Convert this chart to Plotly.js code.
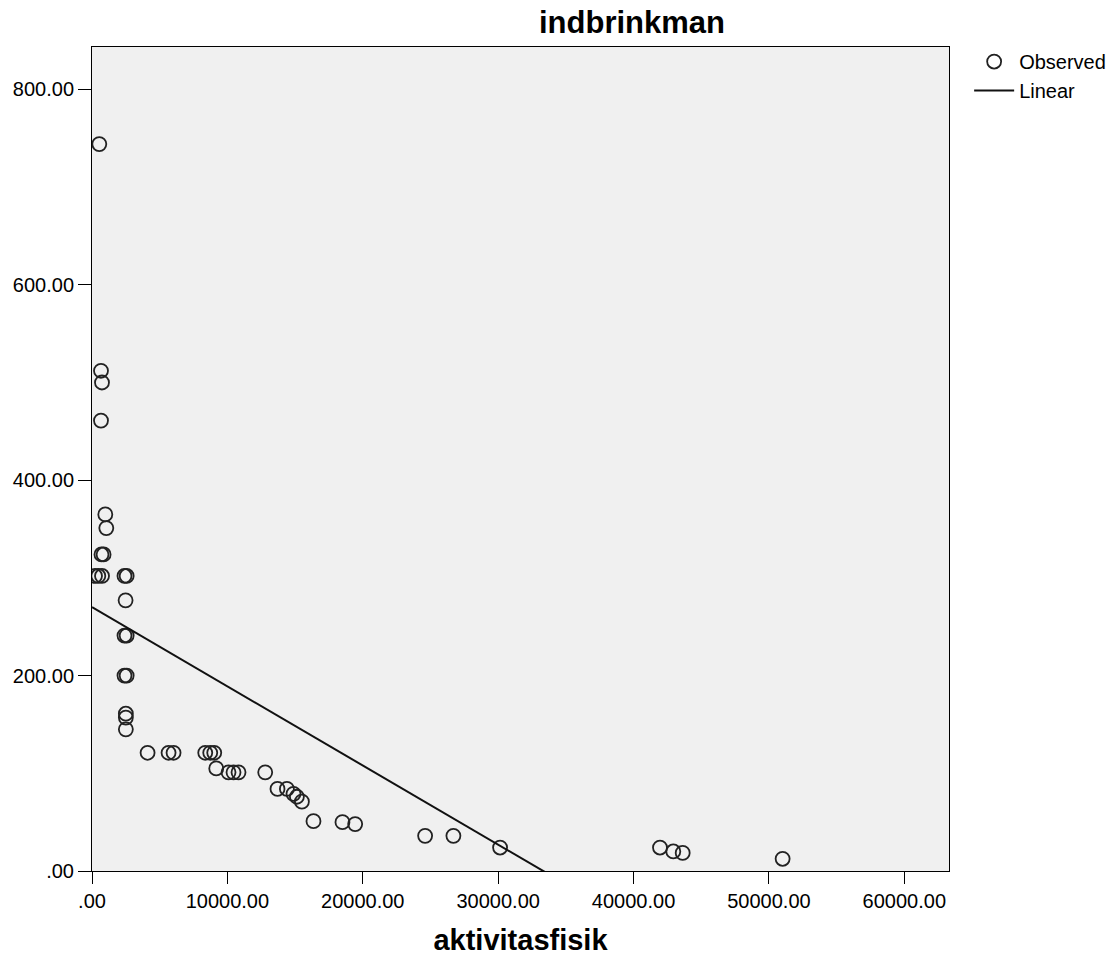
<!DOCTYPE html>
<html>
<head>
<meta charset="utf-8">
<script src="https://cdn.plot.ly/plotly-3.0.1.min.js"></script>
<style>html,body{margin:0;padding:0;background:#fff;}#chart{width:1116px;height:962px;}</style>
</head>
<body>
<div id="chart"></div>
<script>
// Observed data (aktivitasfisik vs indbrinkman)
var obsX = [539, 664, 738, 664, 982, 1056, 700, 856, 220, 465, 740, 2400, 2560, 2480, 2400, 2560, 2400, 2560, 2500, 2500, 2500,
            4105, 5655, 6024, 8364, 8733, 9029, 9177, 10084, 10453, 10822, 12794, 13702, 14396, 14883, 15134, 15503,
            16359, 18500, 19438, 24605, 26694, 30142, 41954, 42936, 43630, 51011];
var obsY = [744, 512, 500, 461, 365, 351, 324, 324, 302, 302, 302, 302, 302, 277, 241, 241, 200, 200, 161, 157, 145,
            121, 121, 121, 121, 121, 121, 105, 101, 101, 101, 101, 84, 84, 79, 76, 71,
            51, 50, 48, 36, 36, 24, 24, 20, 18.5, 12.5];
// Linear fit
var fitIntercept = 270;
var fitSlope = -0.00810;
var fitX = [0, 51011];
var fitY = fitX.map(function (x) { return fitIntercept + fitSlope * x; });

var xTickVals = [0, 10000, 20000, 30000, 40000, 50000, 60000];
var xTickText = ['.00', '10000.00', '20000.00', '30000.00', '40000.00', '50000.00', '60000.00'];
var yTickVals = [0, 200, 400, 600, 800];
var yTickText = ['.00', '200.00', '400.00', '600.00', '800.00'];

var font = 'Liberation Sans, Arial, sans-serif';

var traces = [
  {
    x: obsX, y: obsY, type: 'scatter', mode: 'markers', name: 'Observed',
    marker: { symbol: 'circle-open', size: 14, color: '#222', line: { width: 1.8, color: '#222' } },
    cliponaxis: true
  },
  {
    x: fitX, y: fitY, type: 'scatter', mode: 'lines', name: 'Linear',
    line: { color: '#111', width: 2 }
  }
];

var layout = {
  width: 1116, height: 962,
  margin: { l: 92, r: 167, t: 47, b: 91, autoexpand: false },
  paper_bgcolor: '#ffffff',
  plot_bgcolor: '#f0f0f0',
  font: { family: font, size: 20, color: '#000' },
  title: {
    text: '<b>indbrinkman</b>',
    font: { family: font, size: 31, color: '#000' },
    x: 632 / 1116, xanchor: 'center', xref: 'container',
    y: 1 - 33 / 962, yanchor: 'bottom', yref: 'container'
  },
  xaxis: {
    range: [0, 63300], tickvals: xTickVals, ticktext: xTickText,
    showgrid: false, zeroline: false, showline: true, mirror: true,
    linecolor: '#000', linewidth: 1, ticks: 'outside', ticklen: 12, tickcolor: '#000', tickwidth: 1,
    tickfont: { family: font, size: 20, color: '#000' },
    title: { text: '<b>aktivitasfisik</b>', font: { family: font, size: 29, color: '#000' }, standoff: 18 }
  },
  yaxis: {
    range: [0, 843.4], tickvals: yTickVals, ticktext: yTickText,
    showgrid: false, zeroline: false, showline: true, mirror: true,
    linecolor: '#000', linewidth: 1, ticks: 'outside', ticklen: 13, tickcolor: '#000', tickwidth: 1,
    tickfont: { family: font, size: 20, color: '#000' }
  },
  showlegend: true,
  legend: {
    x: 1.0235, y: 1.006, xanchor: 'left', yanchor: 'top',
    bgcolor: 'rgba(0,0,0,0)', borderwidth: 0,
    font: { family: font, size: 20, color: '#000' },
    tracegroupgap: 0, itemwidth: 40
  }
};

Plotly.newPlot('chart', traces, layout, { displayModeBar: false, staticPlot: true });
</script>
</body>
</html>
